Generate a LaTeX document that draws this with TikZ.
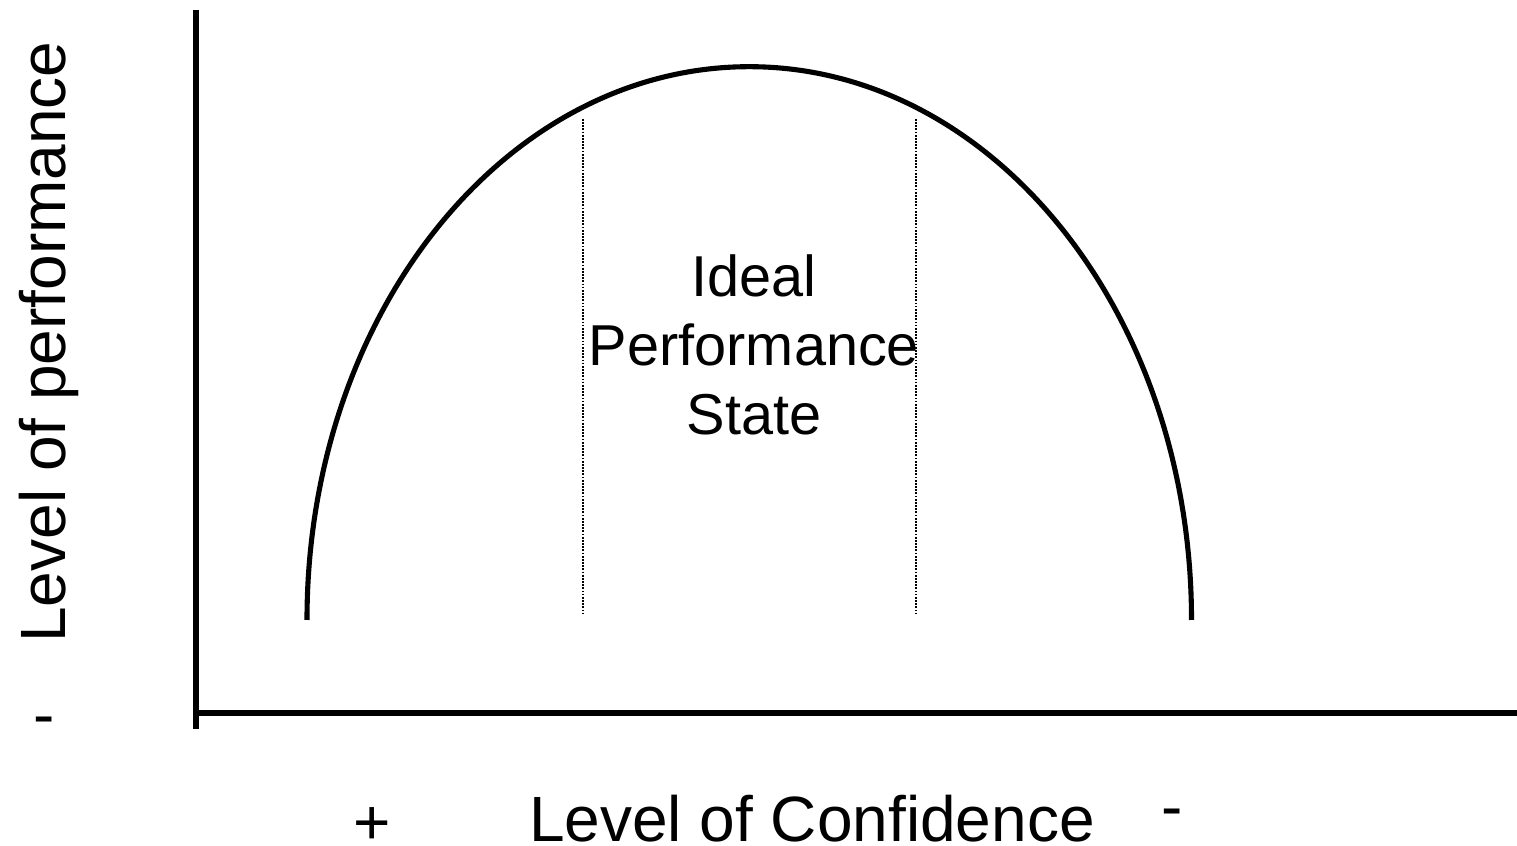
\documentclass[tikz,border=0pt]{standalone}
\usepackage{fontspec}
\setmainfont{Liberation Sans}
\begin{document}
\begin{tikzpicture}[x=0.01cm,y=-0.01cm,
  axis/.style={line width=1.45pt},
  curveline/.style={line width=1.45pt},
  guide/.style={line width=0.35pt,dash pattern=on 0.5pt off 0.4pt},
  bigtext/.style={inner sep=0pt,font=\fontsize{18.2}{21}\selectfont},
  midtext/.style={inner sep=0pt,align=center,font=\fontsize{16.4}{19.6}\selectfont}]
\useasboundingbox (0,0) rectangle (1517,846);
% axes
\coordinate (ytop) at (196,10);
\coordinate (ybot) at (196,729);
\coordinate (xleft) at (196,713);
\coordinate (xright) at (1517,713);
\draw[axis] (ytop) -- (ybot);
\draw[axis] (xleft) -- (xright);
% curve
\coordinate (cstart) at (307,620);
\draw[curveline] (cstart) arc[start angle=180,end angle=0,x radius=4.42cm,y radius=5.53cm] coordinate (cend);
% guides
\coordinate (g1t) at (583,119);
\coordinate (g1b) at (583,615);
\coordinate (g2t) at (916,119);
\coordinate (g2b) at (916,615);
\draw[guide] (g1t) -- (g1b);
\draw[guide] (g2t) -- (g2b);
% texts
\node[midtext] (ips) at (754,345) {Ideal\\Performance\\State};
\node[bigtext,anchor=base] (xlab) at (812,842) {Level of Confidence};
\node[bigtext,anchor=base,rotate=90] (ylab) at (65,342) {Level of performance};
\node[bigtext,anchor=base] (yminus) at (44,737) {-};
\node[bigtext,anchor=base] (xplus) at (372,845) {+};
\node[bigtext,anchor=base] (xminus) at (1172,829) {-};
\end{tikzpicture}
\end{document}
